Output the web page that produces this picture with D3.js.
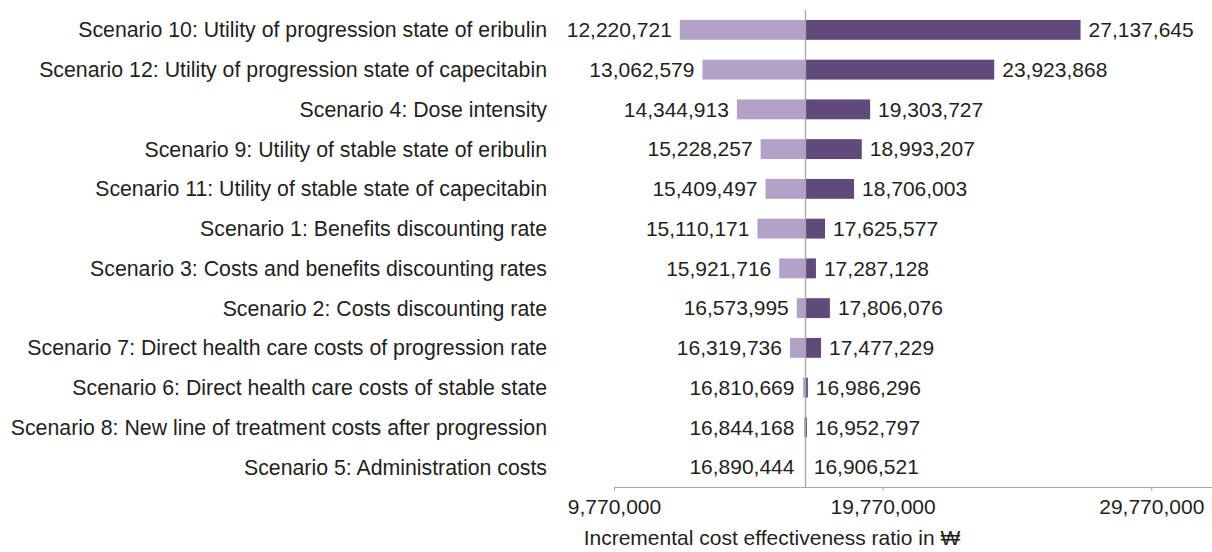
<!DOCTYPE html>
<html><head><meta charset="utf-8">
<script src="https://cdn.jsdelivr.net/npm/d3@7"></script>
<style>body{margin:0;background:#fff}svg{display:block}text{font-family:"Liberation Sans",Arial,sans-serif;fill:#231f20}</style>
</head><body><svg id="c" width="1212" height="552"></svg>
<script>
const scenarios = [
 "Scenario 10: Utility of progression state of eribulin",
 "Scenario 12: Utility of progression state of capecitabin",
 "Scenario 4: Dose intensity",
 "Scenario 9: Utility of stable state of eribulin",
 "Scenario 11: Utility of stable state of capecitabin",
 "Scenario 1: Benefits discounting rate",
 "Scenario 3: Costs and benefits discounting rates",
 "Scenario 2: Costs discounting rate",
 "Scenario 7: Direct health care costs of progression rate",
 "Scenario 6: Direct health care costs of stable state",
 "Scenario 8: New line of treatment costs after progression",
 "Scenario 5: Administration costs"
];
const lowValues = [12220721,13062579,14344913,15228257,15409497,15110171,15921716,16573995,16319736,16810669,16844168,16890444];
const highValues = [27137645,23923868,19303727,18993207,18706003,17625577,17287128,17806076,17477229,16986296,16952797,16906521];
const baseValue = 16898000;
const tickValues = [9770000,19770000,29770000];
const axisTitle = "Incremental cost effectiveness ratio in \u20A9";

const svg = d3.select("#c");
const fs = 21;
const x = d3.scaleLinear().domain([9770000, 32030000]).range([614, 1212]);
const y = d3.scaleBand().domain(scenarios).range([10, 487]).paddingInner(0.5).paddingOuter(0.25);
const fmt = d3.format(",");
const light = "#b3a2c8", dark = "#604a7b";

const rows = scenarios.map((s,i)=>({s, lo: lowValues[i], hi: highValues[i]}));

// bars
svg.selectAll("rect.lo").data(rows).join("rect").attr("class","lo")
  .attr("x", d=>x(d.lo)).attr("width", d=>x(baseValue)-x(d.lo))
  .attr("y", d=>y(d.s)).attr("height", y.bandwidth()).attr("fill", light);
svg.selectAll("rect.hi").data(rows).join("rect").attr("class","hi")
  .attr("x", x(baseValue)).attr("width", d=>x(d.hi)-x(baseValue))
  .attr("y", d=>y(d.s)).attr("height", y.bandwidth()).attr("fill", dark);

// axis
const ax = svg.append("g").attr("transform","translate(0,487)")
  .call(d3.axisBottom(x).tickValues(tickValues).tickFormat(fmt).tickSizeOuter(0).tickSizeInner(4).tickPadding(8));
ax.select(".domain").attr("stroke","#a6a6a6");
ax.selectAll(".tick line").attr("stroke","#a6a6a6");
ax.selectAll(".tick text").attr("font-size",fs).attr("fill","#231f20").attr("font-family",'"Liberation Sans",Arial,sans-serif');

// base line
svg.append("line").attr("x1",x(baseValue)).attr("x2",x(baseValue)).attr("y1",10).attr("y2",487)
  .attr("stroke","#a6a6a6").attr("stroke-width",1.3);

// labels
svg.selectAll("text.cat").data(rows).join("text").attr("class","cat")
  .attr("x",547).attr("y",d=>y(d.s)+y.bandwidth()/2).attr("dy","0.35em")
  .attr("text-anchor","end").attr("font-size",21.3).text(d=>d.s);
svg.selectAll("text.lov").data(rows).join("text").attr("class","lov")
  .attr("x",d=>Math.min(x(d.lo), x(baseValue)-3)-8).attr("y",d=>y(d.s)+y.bandwidth()/2).attr("dy","0.35em")
  .attr("text-anchor","end").attr("font-size",fs).text(d=>fmt(d.lo));
svg.selectAll("text.hiv").data(rows).join("text").attr("class","hiv")
  .attr("x",d=>Math.max(x(d.hi), x(baseValue))+8).attr("y",d=>y(d.s)+y.bandwidth()/2).attr("dy","0.35em")
  .attr("text-anchor","start").attr("font-size",fs).text(d=>fmt(d.hi));

svg.append("text").attr("x",772).attr("y",538).attr("dy","0.35em").attr("text-anchor","middle")
  .attr("font-size",fs).text(axisTitle);
</script></body></html>
